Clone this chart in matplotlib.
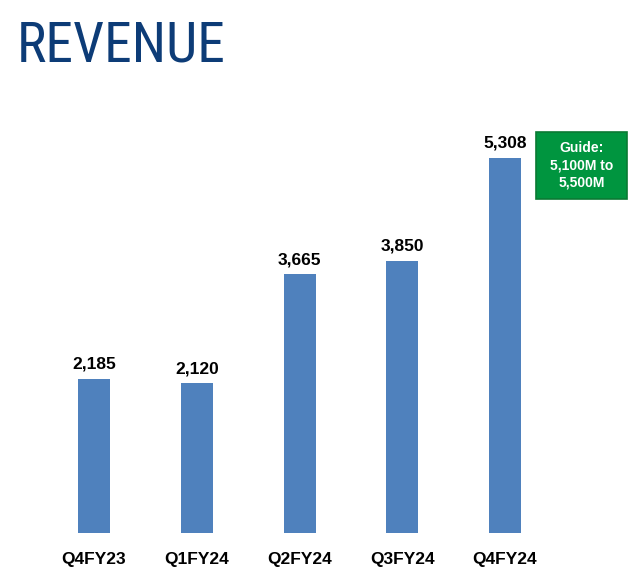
import matplotlib
matplotlib.use("Agg")
import matplotlib.pyplot as plt
from matplotlib.patches import Rectangle

quarters = ["Q4FY23", "Q1FY24", "Q2FY24", "Q3FY24", "Q4FY24"]
revenue = [2185, 2120, 3665, 3850, 5308]
value_labels = ["2,185", "2,120", "3,665", "3,850", "5,308"]
guide_text = "Guide:\n5,100M to\n5,500M"

W, H = 640, 585
fig = plt.figure(figsize=(W / 100, H / 100), dpi=100)
fig.patch.set_facecolor("white")

# axes spans whole width, bottom at the bar base
ax = fig.add_axes([0, (H - 533) / H, 1, 533 / H])
step = 102.75
ax.set_xlim((0 - 94) / step, (W - 94) / step)
ax.set_ylim(0, 533 * 14.15)

x = range(len(quarters))
ax.bar(x, revenue, width=32 / step, color="#4F81BD")

for xi, v, lab in zip(x, revenue, value_labels):
    ax.annotate(lab, (xi, v), xytext=(0, 5), textcoords="offset points",
                ha="center", va="bottom", fontsize=12.5, fontweight="bold",
                family="Liberation Sans", color="black")

ax.set_xticks(list(x))
ax.set_xticklabels(quarters, fontsize=12.5, fontweight="bold", family="Liberation Sans")
ax.tick_params(axis="x", length=0, pad=14)
ax.set_yticks([])
for s in ax.spines.values():
    s.set_visible(False)

fig.text(17 / W, 1 - 62 / H, "REVENUE", ha="left", va="baseline",
         fontsize=40, color="#0D3C77", family=["Roboto Condensed", "Liberation Sans"])

# guide box
bx0, by0, bx1, by1 = 536, 132, 627, 199
fig.patches.append(Rectangle((bx0 / W, 1 - by1 / H), (bx1 - bx0) / W, (by1 - by0) / H,
                             transform=fig.transFigure, facecolor="#00953F",
                             edgecolor="#0A7A33", linewidth=1.2))
fig.text((bx0 + bx1) / 2 / W, 1 - (by0 + by1) / 2 / H, guide_text, ha="center", va="center",
         fontsize=10, fontweight="bold", color="white", family="Liberation Sans",
         linespacing=1.3)

fig.savefig("out.png", dpi=100)
